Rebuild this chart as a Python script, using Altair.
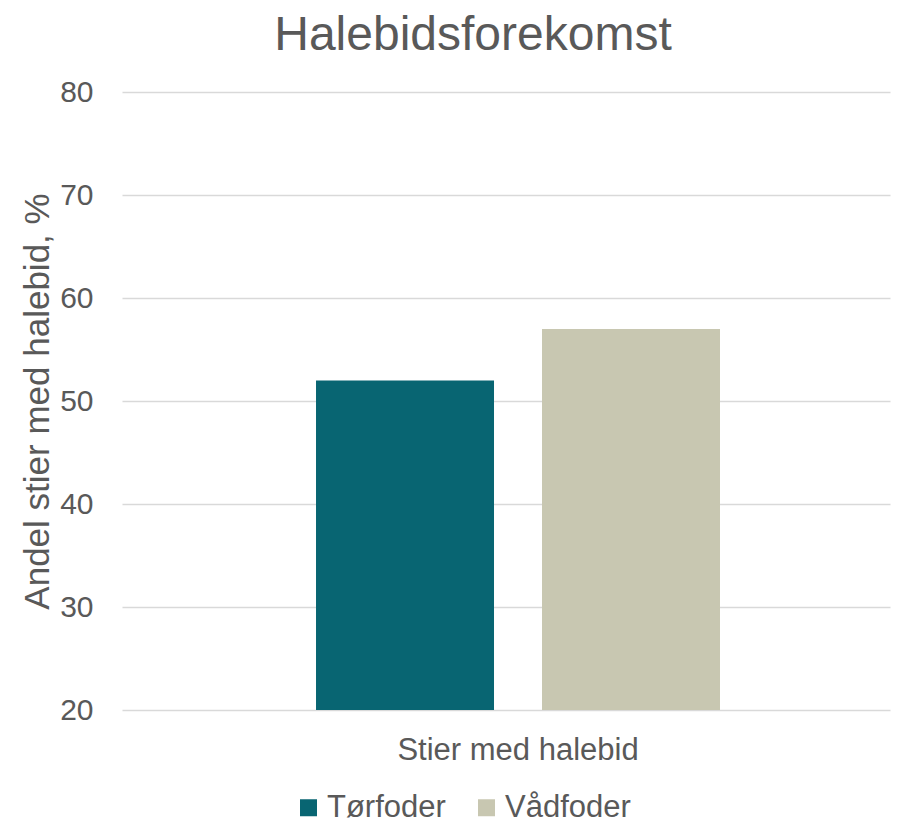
import altair as alt
import pandas as pd

categories = ["Stier med halebid"]
series = ["Tørfoder", "Vådfoder"]
values = [52, 57]
colors = ["#086572", "#C8C7B1"]

df = pd.DataFrame({
    "group": [categories[0]] * len(series),
    "series": series,
    "value": values,
})

FONT = "Liberation Sans"
TXT = "#595959"

chart = alt.Chart(df).mark_bar().encode(
    x=alt.X("group:N",
            scale=alt.Scale(paddingInner=0, paddingOuter=0.4505, align=0.533),
            axis=alt.Axis(title=None, labelAngle=0, labelFontSize=31, ticks=False,
                          domain=False, labelPadding=25, labelColor=TXT, labelFont=FONT,
                          labelLimit=0)),
    xOffset=alt.XOffset("series:N", sort=series,
                        scale=alt.Scale(paddingInner=0.2124, paddingOuter=0)),
    y=alt.Y("value:Q",
            scale=alt.Scale(domain=[20, 80], zero=False, nice=False),
            axis=alt.Axis(title="Andel stier med halebid, %", values=[20, 30, 40, 50, 60, 70, 80],
                          titleFontSize=35, titleFont=FONT, titleColor=TXT, titleFontWeight="normal",
                          titlePadding=4,
                          labelFontSize=30, labelFont=FONT, labelColor=TXT, labelPadding=29,
                          ticks=False, domain=False, gridColor="#D9D9D9", gridWidth=1.5)),
    y2=alt.datum(20),
    color=alt.Color("series:N", sort=series,
                    scale=alt.Scale(domain=series, range=colors),
                    legend=alt.Legend(title=None, orient="none", direction="horizontal",
                                      legendX=171, legendY=700,
                                      symbolType="square", symbolSize=289, symbolStrokeWidth=0,
                                      labelFontSize=31, labelFont=FONT, labelColor=TXT,
                                      labelOffset=3, columnPadding=25, padding=0)),
).properties(
    width=768,
    height=618,
    title=alt.Title("Halebidsforekomst", fontSize=48, font=FONT, color=TXT,
                    fontWeight="normal", anchor="middle", dx=-33, offset=17),
    padding={"left": 12, "top": 4, "right": 5, "bottom": 5},
).configure_view(stroke=None)

chart.save("out.html", embed_options={"renderer": "svg", "actions": False})
